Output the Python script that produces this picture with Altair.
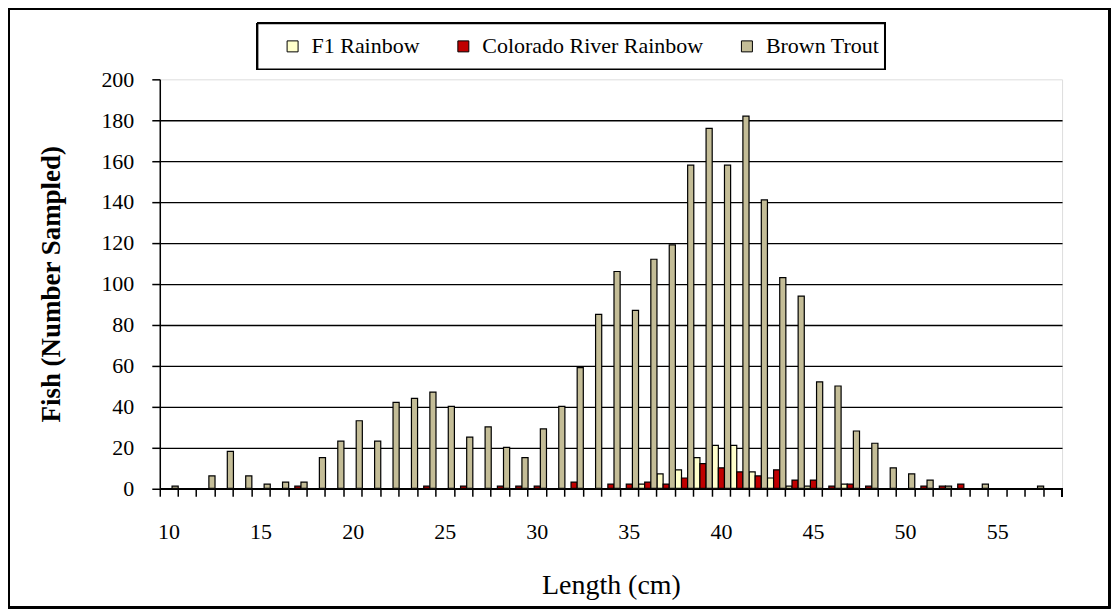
import altair as alt
import pandas as pd

lengths = list(range(10, 59))
series_names = ["F1 Rainbow", "Colorado River Rainbow", "Brown Trout"]
series_colors = ["#FFFFCC", "#C00000", "#C4BD97"]

f1_rainbow = [0, 0, 0, 0, 0, 0, 0, 0, 0, 0,
              0, 0, 0, 0, 0, 0, 0, 0, 0, 0,
              0, 0, 0, 0, 0, 0, 2, 7, 9, 15,
              21, 21, 8, 5, 1, 1, 0, 2, 0, 0,
              0, 0, 0, 0, 0, 0, 0, 0, 0]
colorado_rainbow = [0, 0, 0, 0, 0, 0, 0, 1, 0, 0,
                    0, 0, 0, 0, 1, 0, 1, 0, 1, 1,
                    1, 0, 3, 0, 2, 2, 3, 2, 5, 12,
                    10, 8, 6, 9, 4, 4, 1, 2, 1, 0,
                    0, 1, 1, 2, 0, 0, 0, 0, 0]
brown_trout = [1, 0, 6, 18, 6, 2, 3, 3, 15, 23,
               33, 23, 42, 44, 47, 40, 25, 30, 20, 15,
               29, 40, 59, 85, 106, 87, 112, 119, 158, 176,
               158, 182, 141, 103, 94, 52, 50, 28, 22, 10,
               7, 4, 1, 0, 2, 0, 0, 1, 0]

y_ticks = list(range(0, 201, 20))

rows = []
for name, vals in zip(series_names, [f1_rainbow, colorado_rainbow, brown_trout]):
    for L, v in zip(lengths, vals):
        if v > 0:
            rows.append({"Length": L, "Series": name, "Count": v})
df = pd.DataFrame(rows)
cats = pd.DataFrame({"Length": lengths})

W = 903.6
H = 409.5
FONT = "Liberation Serif, Times New Roman, serif"

xscale = alt.Scale(domain=lengths, paddingInner=0, paddingOuter=0)

bars = alt.Chart(df).mark_bar(stroke="black", strokeWidth=1.2).encode(
    x=alt.X("Length:O", scale=xscale,
            axis=alt.Axis(orient="bottom", labels=False, title=None, ticks=True, bandPosition=0,
                          tickSize=8, tickColor="black", tickWidth=1.5,
                          domainColor="black", domainWidth=1.5, grid=False)),
    xOffset=alt.XOffset("Series:N", sort=series_names,
                        scale=alt.Scale(domain=series_names, paddingInner=0, paddingOuter=0)),
    y=alt.Y("Count:Q", scale=alt.Scale(domain=[0, 200], nice=False),
            axis=alt.Axis(values=y_ticks, title="Fish (Number Sampled)",
                          titleFont=FONT, titleFontSize=27, titleFontWeight="bold",
                          titleColor="black", titleX=-108, titleY=H / 2,
                          titleAngle=-90, titleBaseline="middle", titleAlign="center",
                          labelFont=FONT, labelFontSize=22, labelColor="black",
                          labelPadding=18, tickSize=8, tickColor="black", tickWidth=1.5,
                          domainColor="black", domainWidth=1.5,
                          grid=True, gridColor="black", gridWidth=1.3,
                          gridOpacity=alt.condition("datum.value >= 200", alt.value(0), alt.value(1)))),
    fill=alt.Fill("Series:N", sort=series_names,
                  scale=alt.Scale(domain=series_names, range=series_colors),
                  legend=alt.Legend(title=None, orient="none", direction="horizontal",
                                    columns=3, legendX=122, legendY=-44,
                                    symbolType="square", symbolSize=121,
                                    symbolStrokeColor="black", symbolStrokeWidth=1,
                                    labelFont=FONT, labelFontSize=22, labelColor="black",
                                    labelLimit=0, labelOffset=8, columnPadding=32, padding=0)),
)

labels = alt.Chart(cats).mark_point(opacity=0).encode(
    x=alt.X("Length:O", scale=xscale,
            axis=alt.Axis(orient="bottom", ticks=False, domain=False, grid=False, labelAngle=0,
                          labelExpr="(datum.value % 5 == 0 && datum.value <= 55) ? datum.label : ''",
                          labelFont=FONT, labelFontSize=22, labelColor="black",
                          labelPadding=33, labelBaseline="top", tickSize=0,
                          title="Length (cm)", titleFont=FONT, titleFontSize=28,
                          titleFontWeight="normal", titleColor="black",
                          titleY=97, titleBaseline="middle")),
    y=alt.value(0),
)

end_tick = alt.Chart(cats).mark_rule(color="black", strokeWidth=1.5).encode(
    x=alt.value(W), y=alt.value(H), y2=alt.value(H + 8)
)

legend_box = alt.Chart(cats).mark_rect(fill="white", stroke="black", strokeWidth=1.5).encode(
    x=alt.value(258 - 160), x2=alt.value(886 - 160),
    y=alt.value(23 - 79), y2=alt.value(69 - 79),
)

outer_box = alt.Chart(cats).mark_rect(fill=None, stroke="black", strokeWidth=1.5).encode(
    x=alt.value(8.8 - 160), x2=alt.value(1111 - 160),
    y=alt.value(8.8 - 79), y2=alt.value(608 - 79),
)

chart = alt.layer(outer_box, legend_box, bars, labels, end_tick).resolve_axis(
    x="independent"
).properties(
    width=W, height=H,
    autosize=alt.AutoSizeParams(type="none"),
    padding={"left": 152, "top": 71, "right": 50, "bottom": 122},
).configure_view(
    stroke="#808080", strokeWidth=1.5
).configure_legend(
    labelFont=FONT, labelFontSize=22, labelLimit=0
).configure(background="white", font=FONT)

chart.save("out.html", embed_options={"renderer": "svg", "actions": False})
